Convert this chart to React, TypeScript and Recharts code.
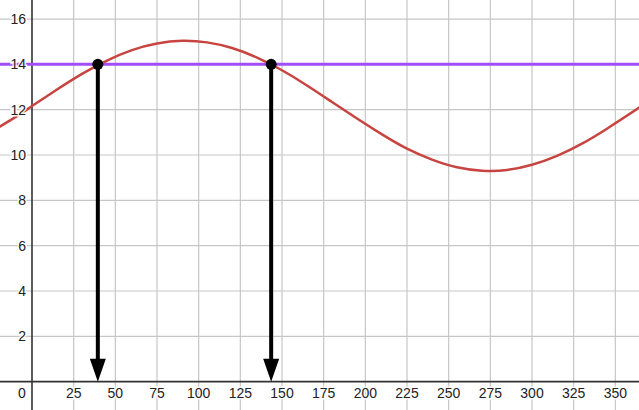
import React from 'react';
import {
  LineChart,
  Line,
  XAxis,
  YAxis,
  ReferenceLine,
  ReferenceDot,
} from 'recharts';

// values
const days = [-20, -10, 0, 15, 30, 45, 60, 75, 90, 105, 120, 135, 150, 165, 180, 195, 210, 225, 240, 255, 270, 285, 300, 315, 330, 345, 365];
const hours = [11.22, 11.67, 12.16, 12.89, 13.58, 14.17, 14.63, 14.92, 15.04, 14.97, 14.72, 14.3, 13.74, 13.07, 12.34, 11.61, 10.91, 10.28, 9.8, 9.46, 9.31, 9.34, 9.57, 9.96, 10.5, 11.16, 12.12];

const xTicks = [25, 50, 75, 100, 125, 150, 175, 200, 225, 250, 275, 300, 325, 350];
const yTicks = [2, 4, 6, 8, 10, 12, 14, 16];
const level = 14;
const crossings = [39.5, 143.5];

const data = days.map((d, i) => ({ x: d, y: hours[i] }));

const font = '"Liberation Sans", Arial, sans-serif';
const ink = '#222';
const gridColor = '#c6c6c6';

const labelText = (value: string, dx: number, dy: number, anchor: 'start' | 'middle' | 'end') =>
  (p: any) => (
    <text
      x={p.cx + dx}
      y={p.cy + dy}
      textAnchor={anchor}
      dominantBaseline="central"
      fontFamily={font}
      fontSize={14}
      fill={ink}
      stroke="#fff"
      strokeWidth={3}
      strokeOpacity={0.85}
      paintOrder="stroke"
    >
      {value}
    </text>
  );

const arrowHead = (p: any) => (
  <path
    d={`M${p.cx},${p.cy} L${p.cx - 8},${p.cy - 23} L${p.cx + 8},${p.cy - 23} Z`}
    fill="#000"
  />
);

export default function App() {
  return (
    <div style={{ position: 'absolute', left: 0, top: 0, width: 639, height: 410, background: '#fff' }}>
      <LineChart width={639} height={410} data={data} margin={{ top: 0, right: 0, bottom: 0, left: 0 }}>
        <XAxis
          dataKey="x"
          type="number"
          domain={[-19.2, 364.2]}
          allowDataOverflow
          ticks={xTicks}
          hide
        />
        <YAxis
          type="number"
          domain={[-1.25, 16.84]}
          allowDataOverflow
          ticks={yTicks}
          hide
        />
        {xTicks.map((t) => (
          <ReferenceLine key={'gx' + t} x={t} stroke={gridColor} strokeWidth={1.2} />
        ))}
        {yTicks.map((t) => (
          <ReferenceLine key={'gy' + t} y={t} stroke={gridColor} strokeWidth={1.2} />
        ))}
        <ReferenceLine x={0} stroke="#333" strokeWidth={1.6} />
        <ReferenceLine y={0} stroke="#333" strokeWidth={1.6} />

        {xTicks.map((t) => (
          <ReferenceDot key={'xl' + t} x={t} y={0} r={0} shape={labelText(String(t), 0, 11, 'middle')} />
        ))}
        {yTicks.map((t) => (
          <ReferenceDot key={'yl' + t} x={0} y={t} r={0} shape={labelText(String(t), -6, 0, 'end')} />
        ))}
        <ReferenceDot x={0} y={0} r={0} shape={labelText('0', -10, 11, 'middle')} />

        <ReferenceLine y={level} stroke="#a34df7" strokeWidth={3} />
        <Line
          type="natural"
          dataKey="y"
          stroke="#c74440"
          strokeWidth={2.5}
          dot={false}
          activeDot={false}
          isAnimationActive={false}
        />

        {crossings.map((c) => (
          <ReferenceLine
            key={'sh' + c}
            segment={[{ x: c, y: level }, { x: c, y: 0.9 }]}
            stroke="#000"
            strokeWidth={4}
          />
        ))}
        {crossings.map((c) => (
          <ReferenceDot key={'ah' + c} x={c} y={0} r={0} shape={arrowHead} />
        ))}
        {crossings.map((c) => (
          <ReferenceDot key={'pt' + c} x={c} y={level} r={5.5} fill="#000" stroke="none" />
        ))}
      </LineChart>
    </div>
  );
}
